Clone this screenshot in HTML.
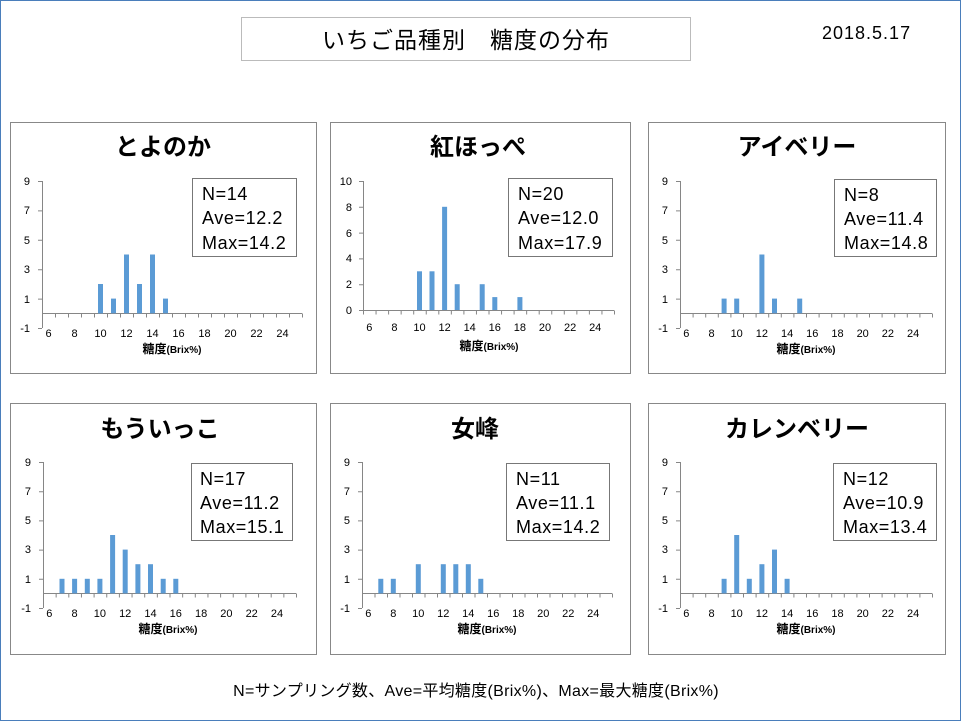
<!DOCTYPE html>
<html><head><meta charset="utf-8"><style>
body{margin:0;background:#fff}
svg{display:block;font-family:"Liberation Sans","Noto Sans CJK JP",sans-serif}
.pb{fill:#fff;stroke:#888;stroke-width:1}
.ax{stroke:#868686;stroke-width:1;fill:none}
.tk{stroke:#868686;stroke-width:4;fill:none}
.t{font-size:24px;font-weight:bold;text-anchor:middle}
.yl{font-size:11px;text-anchor:end}
.xl{font-size:11px;text-anchor:middle}
.al{font-size:12px;font-weight:bold;text-anchor:middle}
.st{font-size:18px;letter-spacing:0.6px}
.bar{fill:#5b9bd5}
</style></head><body>
<svg width="961" height="721" viewBox="0 0 961 721">
<rect x="0.5" y="0.5" width="960" height="720" fill="#fff" stroke="#4a7ebb"/>
<rect x="241.5" y="17.5" width="449" height="43" fill="#fff" stroke="#bbb"/>
<text x="466" y="48" font-size="23" text-anchor="middle" style="white-space:pre" letter-spacing="1">いちご品種別　糖度の分布</text>
<text x="822" y="39" font-size="18" letter-spacing="1">2018.5.17</text>

<!-- Panel 1 -->
<rect class="pb" x="10.5" y="122.5" width="306" height="251"/>
<text class="t" x="163" y="155">とよのか</text>
<line class="ax" x1="42.5" y1="181" x2="42.5" y2="328"/>
<line class="tk" x1="40" y1="181" x2="40" y2="330" stroke-dasharray="1 28.4"/>
<line class="ax" x1="42" y1="313.5" x2="302" y2="313.5"/>
<line class="tk" x1="42" y1="315.5" x2="303" y2="315.5" stroke-dasharray="1 12"/>
<g class="yl"><text x="30" y="185">9</text><text x="30" y="214">7</text><text x="30" y="244">5</text><text x="30" y="273">3</text><text x="30" y="303">1</text><text x="30" y="332">-1</text></g>
<g class="xl"><text x="48.5" y="337">6</text><text x="74.5" y="337">8</text><text x="100.5" y="337">10</text><text x="126.5" y="337">12</text><text x="152.5" y="337">14</text><text x="178.5" y="337">16</text><text x="204.5" y="337">18</text><text x="230.5" y="337">20</text><text x="256.5" y="337">22</text><text x="282.5" y="337">24</text></g>
<text class="al" x="172" y="353">糖度<tspan font-size="10">(Brix%)</tspan></text>
<g class="bar"><rect x="98" y="284" width="5" height="29.4"/><rect x="111" y="298.6" width="5" height="14.7"/><rect x="124" y="254.5" width="5" height="58.8"/><rect x="137" y="284" width="5" height="29.4"/><rect x="150" y="254.5" width="5" height="58.8"/><rect x="163" y="298.6" width="5" height="14.7"/></g>
<rect x="192.5" y="178.5" width="104" height="78" fill="#fff" stroke="#777"/>
<g class="st"><text x="202" y="200">N=14</text><text x="202" y="224">Ave=12.2</text><text x="202" y="249">Max=14.2</text></g>

<!-- Panel 2 -->
<rect class="pb" x="330.5" y="122.5" width="300" height="251"/>
<text class="t" x="478" y="155">紅ほっぺ</text>
<line class="ax" x1="363.5" y1="181" x2="363.5" y2="310"/>
<line class="tk" x1="361" y1="181" x2="361" y2="312" stroke-dasharray="1 24.8"/>
<line class="ax" x1="363" y1="310.5" x2="614" y2="310.5"/>
<line class="tk" x1="363" y1="312.5" x2="615" y2="312.5" stroke-dasharray="1 11.55"/>
<g class="yl"><text x="352" y="185">10</text><text x="352" y="211">8</text><text x="352" y="237">6</text><text x="352" y="262">4</text><text x="352" y="288">2</text><text x="352" y="314">0</text></g>
<g class="xl"><text x="369.3" y="331">6</text><text x="394.4" y="331">8</text><text x="419.5" y="331">10</text><text x="444.6" y="331">12</text><text x="469.7" y="331">14</text><text x="494.8" y="331">16</text><text x="519.9" y="331">18</text><text x="545" y="331">20</text><text x="570.1" y="331">22</text><text x="595.2" y="331">24</text></g>
<text class="al" x="489" y="350">糖度<tspan font-size="10">(Brix%)</tspan></text>
<g class="bar"><rect x="417" y="271.3" width="5" height="38.7"/><rect x="429.5" y="271.3" width="5" height="38.7"/><rect x="442.1" y="206.8" width="5" height="103.2"/><rect x="454.7" y="284.2" width="5" height="25.8"/><rect x="479.7" y="284.2" width="5" height="25.8"/><rect x="492.3" y="297.1" width="5" height="12.9"/><rect x="517.4" y="297.1" width="5" height="12.9"/></g>
<rect x="508.5" y="178.5" width="104" height="78" fill="#fff" stroke="#777"/>
<g class="st"><text x="518" y="200">N=20</text><text x="518" y="224">Ave=12.0</text><text x="518" y="249">Max=17.9</text></g>

<!-- Panel 3 -->
<rect class="pb" x="648.5" y="122.5" width="297" height="251"/>
<text class="t" x="797" y="155">アイベリー</text>
<line class="ax" x1="680.5" y1="181" x2="680.5" y2="328"/>
<line class="tk" x1="678" y1="181" x2="678" y2="330" stroke-dasharray="1 28.4"/>
<line class="ax" x1="680" y1="313.5" x2="932" y2="313.5"/>
<line class="tk" x1="680" y1="315.5" x2="933" y2="315.5" stroke-dasharray="1 11.6"/>
<g class="yl"><text x="668" y="185">9</text><text x="668" y="214">7</text><text x="668" y="244">5</text><text x="668" y="273">3</text><text x="668" y="303">1</text><text x="668" y="332">-1</text></g>
<g class="xl"><text x="686.3" y="337">6</text><text x="711.5" y="337">8</text><text x="736.7" y="337">10</text><text x="761.9" y="337">12</text><text x="787.1" y="337">14</text><text x="812.3" y="337">16</text><text x="837.5" y="337">18</text><text x="862.7" y="337">20</text><text x="887.9" y="337">22</text><text x="913.1" y="337">24</text></g>
<text class="al" x="806" y="353">糖度<tspan font-size="10">(Brix%)</tspan></text>
<g class="bar"><rect x="721.6" y="298.6" width="5" height="14.7"/><rect x="734.2" y="298.6" width="5" height="14.7"/><rect x="759.4" y="254.5" width="5" height="58.8"/><rect x="772" y="298.6" width="5" height="14.7"/><rect x="797.2" y="298.6" width="5" height="14.7"/></g>
<rect x="834.5" y="179.5" width="102" height="77" fill="#fff" stroke="#777"/>
<g class="st"><text x="844" y="201">N=8</text><text x="844" y="225">Ave=11.4</text><text x="844" y="249">Max=14.8</text></g>

<!-- Panel 4 -->
<rect class="pb" x="10.5" y="403.5" width="306" height="251"/>
<text class="t" x="160" y="437">もういっこ</text>
<line class="ax" x1="43.5" y1="462" x2="43.5" y2="608"/>
<line class="tk" x1="41" y1="462" x2="41" y2="610" stroke-dasharray="1 28.2"/>
<line class="ax" x1="43" y1="593.5" x2="296" y2="593.5"/>
<line class="tk" x1="43" y1="595.5" x2="297" y2="595.5" stroke-dasharray="1 11.65"/>
<g class="yl"><text x="31" y="466">9</text><text x="31" y="495">7</text><text x="31" y="524">5</text><text x="31" y="553">3</text><text x="31" y="583">1</text><text x="31" y="612">-1</text></g>
<g class="xl"><text x="49.3" y="617">6</text><text x="74.6" y="617">8</text><text x="99.9" y="617">10</text><text x="125.2" y="617">12</text><text x="150.5" y="617">14</text><text x="175.8" y="617">16</text><text x="201.1" y="617">18</text><text x="226.4" y="617">20</text><text x="251.7" y="617">22</text><text x="277" y="617">24</text></g>
<text class="al" x="168" y="633">糖度<tspan font-size="10">(Brix%)</tspan></text>
<g class="bar"><rect x="59.5" y="578.8" width="5" height="14.6"/><rect x="72.1" y="578.8" width="5" height="14.6"/><rect x="84.8" y="578.8" width="5" height="14.6"/><rect x="97.4" y="578.8" width="5" height="14.6"/><rect x="110.1" y="535" width="5" height="58.4"/><rect x="122.7" y="549.6" width="5" height="43.8"/><rect x="135.4" y="564.2" width="5" height="29.2"/><rect x="148" y="564.2" width="5" height="29.2"/><rect x="160.7" y="578.8" width="5" height="14.6"/><rect x="173.3" y="578.8" width="5" height="14.6"/></g>
<rect x="191.5" y="463.5" width="101" height="77" fill="#fff" stroke="#777"/>
<g class="st"><text x="200" y="485">N=17</text><text x="200" y="509">Ave=11.2</text><text x="200" y="533">Max=15.1</text></g>

<!-- Panel 5 -->
<rect class="pb" x="330.5" y="403.5" width="300" height="251"/>
<text class="t" x="475" y="437">女峰</text>
<line class="ax" x1="362.5" y1="462" x2="362.5" y2="608"/>
<line class="tk" x1="360" y1="462" x2="360" y2="610" stroke-dasharray="1 28.2"/>
<line class="ax" x1="362" y1="593.5" x2="612" y2="593.5"/>
<line class="tk" x1="362" y1="595.5" x2="613" y2="595.5" stroke-dasharray="1 11.5"/>
<g class="yl"><text x="350" y="466">9</text><text x="350" y="495">7</text><text x="350" y="524">5</text><text x="350" y="553">3</text><text x="350" y="583">1</text><text x="350" y="612">-1</text></g>
<g class="xl"><text x="368.3" y="617">6</text><text x="393.3" y="617">8</text><text x="418.3" y="617">10</text><text x="443.3" y="617">12</text><text x="468.3" y="617">14</text><text x="493.3" y="617">16</text><text x="518.3" y="617">18</text><text x="543.3" y="617">20</text><text x="568.3" y="617">22</text><text x="593.3" y="617">24</text></g>
<text class="al" x="487" y="633">糖度<tspan font-size="10">(Brix%)</tspan></text>
<g class="bar"><rect x="378.3" y="578.8" width="5" height="14.6"/><rect x="390.8" y="578.8" width="5" height="14.6"/><rect x="415.8" y="564.2" width="5" height="29.2"/><rect x="440.8" y="564.2" width="5" height="29.2"/><rect x="453.3" y="564.2" width="5" height="29.2"/><rect x="465.8" y="564.2" width="5" height="29.2"/><rect x="478.3" y="578.8" width="5" height="14.6"/></g>
<rect x="506.5" y="463.5" width="103" height="77" fill="#fff" stroke="#777"/>
<g class="st"><text x="516" y="485">N=11</text><text x="516" y="509">Ave=11.1</text><text x="516" y="533">Max=14.2</text></g>

<!-- Panel 6 -->
<rect class="pb" x="648.5" y="403.5" width="297" height="251"/>
<text class="t" x="797" y="437">カレンベリー</text>
<line class="ax" x1="680.5" y1="462" x2="680.5" y2="608"/>
<line class="tk" x1="678" y1="462" x2="678" y2="610" stroke-dasharray="1 28.2"/>
<line class="ax" x1="680" y1="593.5" x2="932" y2="593.5"/>
<line class="tk" x1="680" y1="595.5" x2="933" y2="595.5" stroke-dasharray="1 11.6"/>
<g class="yl"><text x="668" y="466">9</text><text x="668" y="495">7</text><text x="668" y="524">5</text><text x="668" y="553">3</text><text x="668" y="583">1</text><text x="668" y="612">-1</text></g>
<g class="xl"><text x="686.3" y="617">6</text><text x="711.5" y="617">8</text><text x="736.7" y="617">10</text><text x="761.9" y="617">12</text><text x="787.1" y="617">14</text><text x="812.3" y="617">16</text><text x="837.5" y="617">18</text><text x="862.7" y="617">20</text><text x="887.9" y="617">22</text><text x="913.1" y="617">24</text></g>
<text class="al" x="806" y="633">糖度<tspan font-size="10">(Brix%)</tspan></text>
<g class="bar"><rect x="721.6" y="578.8" width="5" height="14.6"/><rect x="734.2" y="535" width="5" height="58.4"/><rect x="746.8" y="578.8" width="5" height="14.6"/><rect x="759.4" y="564.2" width="5" height="29.2"/><rect x="772" y="549.6" width="5" height="43.8"/><rect x="784.6" y="578.8" width="5" height="14.6"/></g>
<rect x="833.5" y="463.5" width="103" height="77" fill="#fff" stroke="#777"/>
<g class="st"><text x="843" y="485">N=12</text><text x="843" y="509">Ave=10.9</text><text x="843" y="533">Max=13.4</text></g>

<text x="476" y="696" font-size="16" text-anchor="middle" letter-spacing="0.3">N=サンプリング数、Ave=平均糖度(Brix%)、Max=最大糖度(Brix%)</text>
</svg>
</body></html>
